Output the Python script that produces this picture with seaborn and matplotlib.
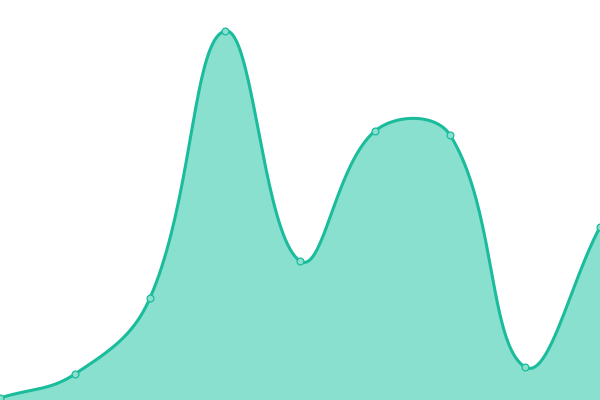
import numpy as np
import pandas as pd
import seaborn as sns
import matplotlib
matplotlib.use("Agg")
import matplotlib.pyplot as plt

# data (x positions and values, 0 = bottom edge)
x_vals = [0, 75, 150, 225, 300, 375, 450, 525, 600]
y_vals = [2, 26, 102, 369, 139, 269, 265, 33, 173]

LINE = "#1abc9c"
FILL = "#8ae0cf"


def smooth_path(xs, ys, tension=0.4, steps=40):
    """Bezier path through the points, distance-weighted control points."""
    pts = np.column_stack([xs, ys]).astype(float)
    n = len(pts)
    cp_in = pts.copy()
    cp_out = pts.copy()
    for i in range(n):
        prev = pts[max(i - 1, 0)]
        nxt = pts[min(i + 1, n - 1)]
        d01 = np.hypot(*(pts[i] - prev))
        d12 = np.hypot(*(nxt - pts[i]))
        tot = d01 + d12
        s01 = d01 / tot if tot else 0
        s12 = d12 / tot if tot else 0
        cp_in[i] = pts[i] - tension * s01 * (nxt - prev)
        cp_out[i] = pts[i] + tension * s12 * (nxt - prev)
    t = np.linspace(0, 1, steps, endpoint=False)[:, None]
    out = []
    for i in range(n - 1):
        p0, p1, p2, p3 = pts[i], cp_out[i], cp_in[i + 1], pts[i + 1]
        out.append((1 - t) ** 3 * p0 + 3 * (1 - t) ** 2 * t * p1
                   + 3 * (1 - t) * t ** 2 * p2 + t ** 3 * p3)
    out.append(pts[-1:])
    out = np.vstack(out)
    return out[:, 0], out[:, 1]


sns.set_style("white")
fig = plt.figure(figsize=(6, 4), dpi=100)
ax = fig.add_axes([0, 0, 1, 1])

sx, sy = smooth_path(x_vals, y_vals)
curve = pd.DataFrame({"x": sx, "y": sy})
points = pd.DataFrame({"x": x_vals, "y": y_vals})

ax.fill_between(curve["x"], curve["y"], 0, color=FILL, linewidth=0)
sns.lineplot(data=curve, x="x", y="y", ax=ax, color=LINE, linewidth=2.2,
             sort=False, estimator=None)
sns.scatterplot(data=points, x="x", y="y", ax=ax, s=24, color=FILL,
                edgecolor=LINE, linewidth=0.9, zorder=5, clip_on=False)

ax.set_xlim(0, 600)
ax.set_ylim(0, 400)
ax.axis("off")

fig.savefig("out.png", dpi=100)
